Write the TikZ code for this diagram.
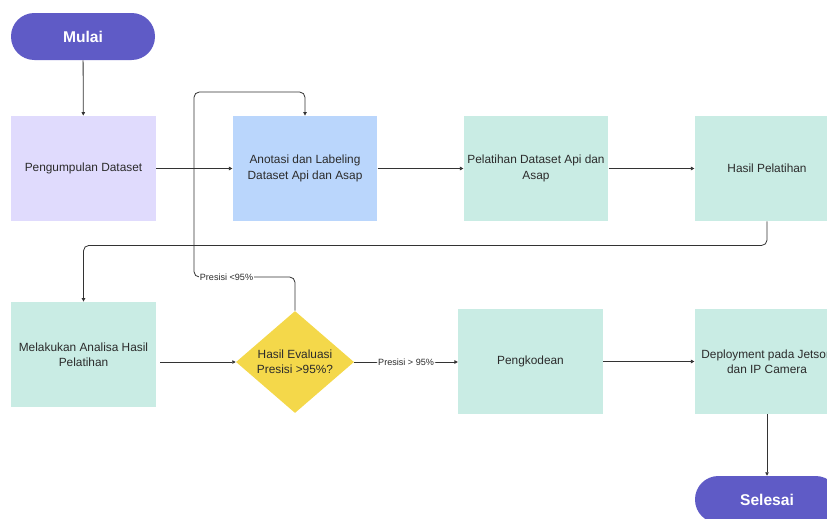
\documentclass[tikz,border=0pt]{standalone}
\usepackage{fontspec}
\setmainfont{Liberation Sans}
\usetikzlibrary{shapes.geometric,arrows.meta}
\definecolor{pill}{HTML}{5F5BC6}
\definecolor{lav}{HTML}{E0DBFD}
\definecolor{lblue}{HTML}{BAD6FC}
\definecolor{mint}{HTML}{C9ECE4}
\definecolor{yel}{HTML}{F4D84A}
\definecolor{ink}{HTML}{2B2B2B}
\definecolor{wire}{HTML}{333333}
\tikzset{
  box/.style={rectangle, draw=none, minimum width=108.5pt, minimum height=79pt,
    inner sep=2pt, align=center, text=ink, font=\fontsize{8.9}{11.6}\selectfont},
  term/.style={rectangle, rounded corners=17.5pt, fill=pill, minimum width=108pt, minimum height=35.25pt,
    text=white, font=\fontsize{11.7}{14}\selectfont\bfseries},
  decision/.style={diamond, fill=yel, inner sep=0pt, minimum width=88.5pt, minimum height=76.5pt,
    align=center, text=ink, font=\fontsize{8.9}{11.6}\selectfont},
  conn/.style={draw=wire, line width=0.6pt, -{Triangle[length=2.6pt,width=2.6pt]}, rounded corners=4pt},
  lbl/.style={fill=white, inner sep=1pt, text=ink, font=\fontsize{6.8}{8}\selectfont}
}
\begin{document}
\begin{tikzpicture}[x=0.75pt,y=-0.75pt]
\useasboundingbox (0,0) rectangle (827,518);
\clip (0,0) rectangle (827,518);
% nodes
\node[term] (mulai) at (83,36.5) {Mulai};
\node[box, fill=lav] (kumpul) at (83.5,168.5) {Pengumpulan Dataset};
\node[box, fill=lblue] (anot) at (305,168.5) {Anotasi dan Labeling\\Dataset Api dan Asap};
\node[box, fill=mint] (latih) at (536,168.5) {Pelatihan Dataset Api dan\\Asap};
\node[box, fill=mint] (hasil) at (767,168.5) {Hasil Pelatihan};
\node[box, fill=mint] (analisa) at (83.5,354.5) {Melakukan Analisa Hasil\\Pelatihan};
\node[decision] (eval) at (295,362) {Hasil Evaluasi\\Presisi >95\%?};
\node[box, fill=mint] (kode) at (530.5,361.5) {Pengkodean};
\node[box, fill=mint] (deploy) at (767,361.5) {Deployment pada Jetson\\dan IP Camera};
\node[term] (selesai) at (767,499.5) {Selesai};
% connectors
\draw[conn] (mulai) -- (kumpul);
\draw[conn] (kumpul) -- (anot);
\draw[conn] (anot) -- (latih);
\draw[conn] (latih) -- (hasil);
\draw[conn] (hasil.south) -- ++(0,24) -| (analisa.north);
\draw[conn, shorten <=3pt] (analisa.east |- eval.west) -- (eval.west);
\draw[conn] (eval.east) -- node[lbl] {Presisi > 95\%} (kode.west |- eval.east);
\draw[conn] (eval.north) |- (194,277) -- (194,92) -| (anot.north);
\node[lbl] (lblrej) at (226.5,277) {Presisi <95\%};
\draw[conn] (kode) -- (deploy);
\draw[conn] (deploy) -- (selesai);
\end{tikzpicture}
\end{document}
